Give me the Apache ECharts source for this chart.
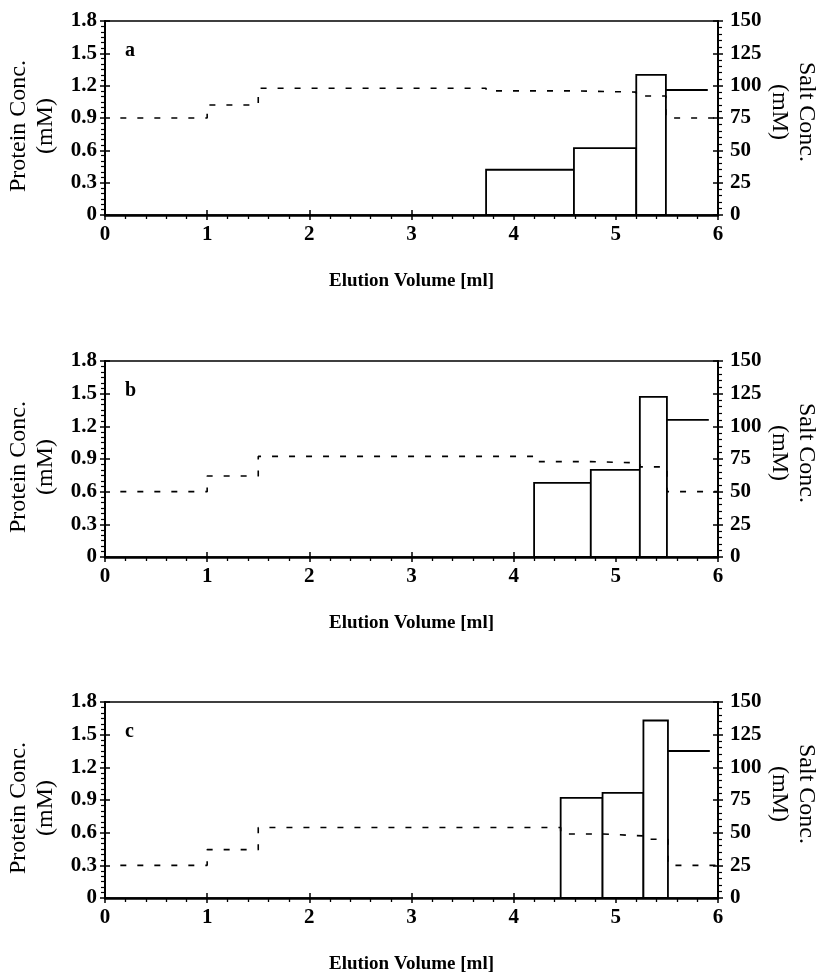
<!DOCTYPE html>
<html>
<head>
<meta charset="utf-8">
<script src="https://cdn.jsdelivr.net/npm/echarts@6/dist/echarts.min.js"></script>
<style>
	html, body { margin: 0; padding: 0; background: #fff; }
	#chart { width: 820px; height: 974px; }
</style>
</head>
<body>
<div id="chart"></div>
<script>
	// panel labels
	var panelNames = ['a', 'b', 'c'];

	// protein fractions: bar edges (ml) and protein conc. (mM)
	var barEdgesA = [3.73, 4.59, 5.2, 5.49];
	var barValsA = [0.42, 0.62, 1.30];
	var barEdgesB = [4.2, 4.755, 5.235, 5.5];
	var barValsB = [0.68, 0.80, 1.47];
	var barEdgesC = [4.46, 4.87, 5.27, 5.51];
	var barValsC = [0.92, 0.965, 1.63];

	// last fraction, drawn as a top line only
	var tailXA = [5.49, 5.9];
	var tailValA = 1.16;
	var tailXB = [5.5, 5.91];
	var tailValB = 1.26;
	var tailXC = [5.51, 5.92];
	var tailValC = 1.35;

	// salt conc. (mM), step breakpoints (ml) and step values
	var saltXA = [0.15, 1, 1.5, 3.73, 4.59, 5.2, 5.49, 6];
	var saltValA = [75, 85, 98, 96, 95, 92, 75];
	var saltXB = [0.15, 1, 1.5, 4.2, 4.755, 5.235, 5.5, 6];
	var saltValB = [50, 62, 77, 73, 72, 69, 50];
	var saltXC = [0.15, 1, 1.5, 4.46, 4.87, 5.27, 5.51, 6];
	var saltValC = [25, 37, 54, 49, 47.5, 45, 25];

	// axis ticks
	var xTicks = [0, 1, 2, 3, 4, 5, 6];
	var proteinTicks = [0, 0.3, 0.6, 0.9, 1.2, 1.5, 1.8];
	var saltTicks = [0, 25, 50, 75, 100, 125, 150];

	var panels = [
		{ edges: barEdgesA, vals: barValsA, tailX: tailXA, tailVal: tailValA, saltX: saltXA, saltVal: saltValA },
		{ edges: barEdgesB, vals: barValsB, tailX: tailXB, tailVal: tailValB, saltX: saltXB, saltVal: saltValB },
		{ edges: barEdgesC, vals: barValsC, tailX: tailXC, tailVal: tailValC, saltX: saltXC, saltVal: saltValC }
	];

	var tops = [21, 361, 702];
	var heights = [194, 196, 196];
	var FONT = 'Liberation Serif';

	var labelStyle = { fontFamily: FONT, fontWeight: 'bold', fontSize: 21, color: '#000' };

	var grid = [], xAxis = [], yAxis = [], series = [], title = [];

	panels.forEach(function (p, k) {
		var g = { left: 105, width: 613, top: tops[k], height: heights[k], containLabel: false, outerBoundsMode: 'none' };
		// main grid (box + outside ticks + labels)
		grid.push(Object.assign({ show: true, borderColor: '#000', borderWidth: 1.5, backgroundColor: 'transparent' }, g));
		// overlay grid (inside major ticks only)
		grid.push(Object.assign({ show: false }, g));
		var gm = 2 * k, go = 2 * k + 1;

		xAxis.push({
			gridIndex: gm, type: 'value', min: xTicks[0], max: xTicks[xTicks.length - 1], interval: 1,
			axisLine: { onZero: false, lineStyle: { color: '#000', width: 2.5 } },
			axisTick: { length: 5, lineStyle: { color: '#000', width: 1.5 } },
			minorTick: { show: true, splitNumber: 5, length: 4, lineStyle: { color: '#000', width: 1.3 } },
			splitLine: { show: false },
			axisLabel: Object.assign({ margin: 9 }, labelStyle),
			name: 'Elution Volume [ml]', nameLocation: 'middle', nameGap: 57, nameMoveOverlap: false,
			nameTextStyle: { fontFamily: FONT, fontWeight: 'bold', fontSize: 19, color: '#000' }
		});
		xAxis.push({
			gridIndex: go, type: 'value', min: xTicks[0], max: xTicks[xTicks.length - 1], interval: 1,
			axisLine: { show: false, onZero: false },
			axisTick: { inside: true, length: 5, lineStyle: { color: '#000', width: 1.5 } },
			axisLabel: { show: false }, splitLine: { show: false }
		});

		var yLeftIdx = yAxis.length;
		yAxis.push({
			gridIndex: gm, type: 'value', position: 'left', min: 0, max: proteinTicks[proteinTicks.length - 1], interval: 0.3,
			axisLine: { show: true, onZero: false, lineStyle: { color: '#000', width: 2 } },
			axisTick: { show: true, length: 5, lineStyle: { color: '#000', width: 1.5 } },
			minorTick: { show: true, splitNumber: 6, length: 4, lineStyle: { color: '#000', width: 1.2 } },
			splitLine: { show: false },
			axisLabel: Object.assign({ margin: 8, formatter: function (v) { return String(Math.round(v * 10) / 10); } }, labelStyle),
			name: 'Protein Conc.\n(mM)', nameLocation: 'middle', nameRotate: 90, nameGap: 45.5, nameMoveOverlap: false,
			nameTextStyle: { fontFamily: FONT, fontSize: 24, lineHeight: 27, color: '#000', padding: [0, 16, 0, 0] }
		});
		var yRightIdx = yAxis.length;
		yAxis.push({
			gridIndex: gm, type: 'value', position: 'right', min: 0, max: saltTicks[saltTicks.length - 1], interval: 25,
			axisLine: { show: true, onZero: false, lineStyle: { color: '#000', width: 2 } },
			axisTick: { show: true, length: 5, lineStyle: { color: '#000', width: 1.5 } },
			minorTick: { show: true, splitNumber: 5, length: 4, lineStyle: { color: '#000', width: 1.2 } },
			splitLine: { show: false },
			axisLabel: Object.assign({ margin: 12 }, labelStyle),
			name: 'Salt Conc.\n(mM)', nameLocation: 'middle', nameRotate: -90, nameGap: 48, nameMoveOverlap: false,
			nameTextStyle: { fontFamily: FONT, fontSize: 24, lineHeight: 27, color: '#000', padding: [0, 12, 0, 0] }
		});
		yAxis.push({
			gridIndex: go, type: 'value', position: 'left', min: 0, max: 1.8, interval: 0.3,
			axisLine: { show: false, onZero: false },
			axisTick: { show: true, inside: true, length: 5, lineStyle: { color: '#000', width: 1.5 } },
			axisLabel: { show: false }, splitLine: { show: false }
		});
		yAxis.push({
			gridIndex: go, type: 'value', position: 'right', min: 0, max: 150, interval: 25,
			axisLine: { show: false, onZero: false },
			axisTick: { show: true, inside: true, length: 5, lineStyle: { color: '#000', width: 1.5 } },
			axisLabel: { show: false }, splitLine: { show: false }
		});

		// bars: [from, to, conc]
		var barData = p.vals.map(function (v, i) { return [p.edges[i], p.edges[i + 1], v]; });
		series.push({
			type: 'custom', xAxisIndex: gm, yAxisIndex: yLeftIdx, z: 3,
			encode: { x: [0, 1], y: 2 },
			data: barData,
			renderItem: function (params, api) {
				var p0 = api.coord([api.value(0), 0]);
				var p1 = api.coord([api.value(1), api.value(2)]);
				return {
					type: 'rect',
					shape: { x: p0[0], y: p1[1], width: p1[0] - p0[0], height: p0[1] - p1[1] },
					style: { fill: '#fff', stroke: '#000', lineWidth: 1.8 }
				};
			}
		});

		series.push({
			type: 'line', xAxisIndex: gm, yAxisIndex: yLeftIdx, z: 4,
			symbol: 'none', silent: true,
			lineStyle: { color: '#000', width: 1.8 },
			data: p.tailX.map(function (x) { return [x, p.tailVal]; })
		});

		var saltData = p.saltVal.map(function (v, i) { return [p.saltX[i], v]; });
		saltData.push([p.saltX[p.saltX.length - 1], p.saltVal[p.saltVal.length - 1]]);
		series.push({
			type: 'line', xAxisIndex: gm, yAxisIndex: yRightIdx, z: 5,
			step: 'end', symbol: 'none', silent: true,
			lineStyle: { color: '#000', width: 1.6, type: [6, 11] },
			data: saltData
		});

		title.push({
			text: panelNames[k], left: 120, top: tops[k] + 15,
			textStyle: { fontFamily: FONT, fontWeight: 'bold', fontSize: 20, color: '#000' }
		});
	});

	var chart = echarts.init(document.getElementById('chart'));
	chart.setOption({
		animation: false,
		backgroundColor: '#fff',
		title: title,
		grid: grid,
		xAxis: xAxis,
		yAxis: yAxis,
		series: series
	});
</script>
</body>
</html>
